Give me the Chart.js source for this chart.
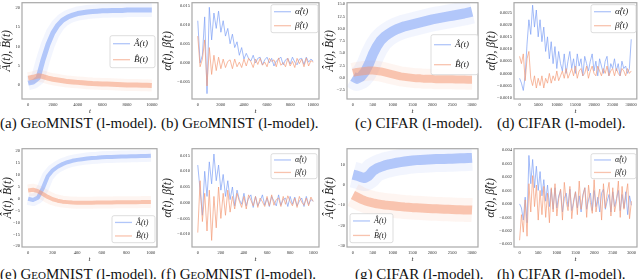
<!DOCTYPE html>
<html>
<head>
<meta charset="utf-8">
<script src="https://cdn.jsdelivr.net/npm/chart.js@4.4.0/dist/chart.umd.min.js"></script>
<style>
body{margin:0;background:#fff;width:640px;height:279px;overflow:hidden;position:relative;font-family:"Liberation Serif",serif}
canvas{position:absolute}
.cap{position:absolute;font-size:15px;line-height:15px;white-space:nowrap;color:#111}
.sc{font-variant:small-caps}
</style>
</head>
<body>
<div class="cap" style="left:0;top:116px">(a) <span class="sc">GeoMNIST</span> (l-model).</div>
<div class="cap" style="left:161px;top:116px">(b) <span class="sc">GeoMNIST</span> (l-model).</div>
<div class="cap" style="left:355px;top:116px">(c) CIFAR (l-model).</div>
<div class="cap" style="left:497px;top:116px">(d) CIFAR (l-model).</div>
<div class="cap" style="left:0;top:267px">(e) <span class="sc">GeoMNIST</span> (l-model).</div>
<div class="cap" style="left:161px;top:267px">(f) <span class="sc">GeoMNIST</span> (l-model).</div>
<div class="cap" style="left:355px;top:267px">(g) CIFAR (l-model).</div>
<div class="cap" style="left:497px;top:267px">(h) CIFAR (l-model).</div>
<script>
// ---- data ----
// (a) GeoMNIST, A-hat / B-hat, t = 0..10000
const stepA = 400;
const aHatA = [0.5,0.8,1.8,6.5,10.5,13.5,15.5,16.8,17.6,18.1,18.5,18.7,18.9,19.0,19.1,19.2,19.2,19.3,19.3,19.3,19.4,19.4,19.4,19.4,19.4,19.4];
const bHatA = [1.8,2.0,2.4,2.2,1.8,1.5,1.3,1.1,0.9,0.8,0.7,0.6,0.5,0.4,0.35,0.3,0.25,0.2,0.15,0.1,0.05,0.0,0.0,-0.05,-0.05,-0.1];

// (b) GeoMNIST, alpha-hat / beta-hat, t = 0..10000
const stepB = 200;
const alphaB = [0.011,0.000,0.002,0.012,-0.008,0.0145,0.006,0.013,0.009,0.0135,0.008,0.011,0.007,0.009,0.005,0.0075,0.004,0.0055,0.002,0.004,
  0.001,0.0025,0.0012,0.0005,0.002,0.000,0.0012,0.0015,-0.0005,0.0008,0.0015,0.000,0.0012,-0.0008,0.0005,0.001,0.0015,-0.0005,0.0008,0.0012,
  -0.0003,0.0015,0.0002,-0.0005,0.001,0.0012,-0.0004,0.0015,0.0002,0.001,0.0005];
const betaB = [0.007,-0.001,0.001,0.006,-0.006,0.004,-0.003,0.002,-0.002,0.0015,
  -0.0015,0.001,-0.0012,0.0004,0.0008,-0.0015,0.001,-0.001,0.0002,-0.0012,0.001,-0.0008,0.0012,0.0003,-0.0012,0.001,-0.0004,0.0012,-0.0006,0.0002,
  -0.001,0.0012,0.0004,0.0008,-0.001,0.0013,-0.0006,0.0001,-0.001,0.0012,-0.0008,0.0004,-0.0012,0.0012,-0.0002,0.001,-0.001,0.0013,-0.0008,0.0006,0.0002];

// (c) CIFAR, A-hat / B-hat, t = 0..3000
const stepC = 100;
const aHatC = [0.3,-0.2,0.2,1.2,2.8,4.8,6.4,7.6,8.4,9.0,9.5,9.9,10.2,10.5,10.7,10.9,11.1,11.3,11.5,11.7,11.9,12.05,12.2,12.35,12.5,12.65,12.8,12.95,13.1,13.3,13.5];
const bHatC = [1.0,1.2,1.3,1.4,1.5,1.5,1.4,1.3,1.1,0.9,0.7,0.5,0.3,0.2,0.1,0.0,-0.1,-0.1,-0.2,-0.2,-0.2,-0.3,-0.3,-0.3,-0.3,-0.3,-0.35,-0.35,-0.35,-0.4,-0.4];

// (d) CIFAR, alpha-hat / beta-hat, t = 0..30000
const stepD = 500;
const alphaD = [-0.0002,-0.0004,-0.0007,-0.0001,0.0012,0.0022,0.0016,0.0028,0.0019,0.0026,0.0015,0.0022,0.0013,0.0019,0.0009,0.0015,0.0006,0.0013,0.0004,0.0011,
  0.0002,0.0009,0.0004,0.0001,0.0008,0.0000,0.0005,0.0009,0.0002,0.0006,0.0000,0.0008,0.0003,0.0006,-0.0001,0.0007,0.0004,0.0001,0.0005,0.0008,
  0.0001,0.0005,-0.0001,0.0006,0.0003,0.0000,0.0005,0.0007,-0.0001,0.0004,0.0002,0.0006,0.0001,0.0004,-0.0001,0.0005,0.0002,0.0003,0.0000,0.0002,0.0014];
const betaD = [0.0007,0.0004,0.0008,-0.0003,0.0006,0.0009,-0.0002,-0.0005,-0.0001,-0.0006,-0.0002,-0.0005,-0.0001,-0.0006,-0.0002,-0.0004,0.0000,-0.0004,-0.0001,-0.0003,
  0.0001,-0.0003,-0.0001,0.0001,-0.0002,0.0002,-0.0002,0.0000,0.0002,-0.0001,0.0003,-0.0002,0.0001,0.0002,-0.0001,0.0000,0.0003,-0.0002,0.0001,0.0003,
  0.0000,-0.0001,0.0003,0.0001,-0.0001,0.0002,0.0000,0.0003,-0.0001,0.0001,0.0002,-0.0001,0.0002,0.0000,-0.0001,0.0002,0.0001,-0.0001,0.0002,0.0000,0.0001];

// (e) GeoMNIST, A-hat / B-hat, t = 0..1000
const stepE = 40;
const aHatE = [0.0,-0.5,0.5,4.5,9.5,12.0,13.5,14.6,15.4,16.0,16.4,16.7,17.0,17.2,17.3,17.5,17.6,17.6,17.7,17.8,17.8,17.9,17.9,18.0,18.0,18.1];
const bHatE = [3.5,3.8,3.2,2.0,0.8,-0.2,-0.8,-1.2,-1.4,-1.6,-1.7,-1.7,-1.7,-1.7,-1.6,-1.6,-1.6,-1.6,-1.5,-1.5,-1.5,-1.5,-1.5,-1.4,-1.4,-1.4];

// (f) GeoMNIST, alpha-hat / beta-hat, t = 0..1000
const stepF = 20;
const alphaF = [0.012,0.004,-0.004,0.010,0.002,0.013,0.006,0.0155,0.007,0.012,0.004,0.009,0.002,0.007,0.001,0.005,
  -0.001,0.004,0.001,-0.0005,0.003,-0.001,0.0015,0.0025,-0.0015,0.002,-0.001,0.0005,0.0025,-0.0008,0.0015,-0.0012,0.002,0.0005,-0.001,0.0025,
  -0.0008,0.001,0.0015,-0.0012,0.002,-0.0005,0.0018,-0.001,0.0005,0.0015,-0.0012,0.002,-0.0006,0.001,0.0005];
const betaF = [-0.0095,0.007,-0.006,0.003,-0.009,0.004,-0.012,0.002,-0.008,0.005,-0.005,0.003,-0.004,0.004,-0.003,0.002,
  -0.002,0.003,0.0005,-0.0015,0.002,-0.002,0.0025,0.0008,-0.001,0.002,-0.0015,0.0015,0.0003,-0.0012,0.002,-0.001,0.0025,-0.0008,0.001,0.0015,
  -0.0012,0.002,-0.0005,0.0022,0.0004,-0.001,0.0015,-0.0015,0.002,0.0002,-0.0008,0.0015,-0.001,0.0018,0.0004];

// (g) CIFAR, A-hat / B-hat, t = 0..3000
const stepG = 100;
const aHatG = [5.0,4.5,3.8,3.3,4.5,6.8,8.0,8.8,9.5,10.0,10.4,10.8,11.1,11.4,11.7,11.9,12.1,12.2,12.3,12.4,12.5,12.6,12.6,12.7,12.8,12.8,12.9,13.0,13.0,13.1,13.2];
const bHatG = [-5.0,-6.0,-7.0,-7.8,-8.4,-8.9,-9.3,-9.6,-9.9,-10.1,-10.3,-10.5,-10.7,-10.9,-11.0,-11.2,-11.3,-11.4,-11.5,-11.6,-11.7,-11.8,-11.9,-12.0,-12.0,-12.1,-12.2,-12.2,-12.3,-12.3,-12.4];

// (h) CIFAR, alpha-hat / beta-hat, t = 0..3000
const stepH = 50;
const alphaH = [0.0000,-0.0003,-0.0012,0.0005,-0.0014,0.0036,0.0015,0.0033,0.0012,0.0028,0.0010,0.0024,0.0006,0.0018,0.0002,0.0014,-0.0002,0.0011,-0.0004,0.0012,
  -0.0003,0.0006,0.0010,-0.0006,0.0004,0.0008,-0.0002,0.0011,-0.0005,0.0001,0.0009,-0.0003,0.0006,-0.0006,0.0007,0.0012,-0.0004,0.0003,0.0008,-0.0005,
  0.0010,-0.0002,0.0005,-0.0006,0.0008,0.0011,-0.0004,0.0002,0.0007,-0.0006,0.0009,-0.0002,0.0004,0.0010,-0.0005,0.0007,-0.0003,0.0009,-0.0008,0.0006,-0.0001];
const betaH = [-0.0027,-0.0008,-0.0021,0.0003,-0.0024,0.0015,-0.0006,0.0021,-0.0002,0.0014,-0.0012,0.0010,-0.0008,0.0013,-0.0010,0.0008,-0.0014,0.0012,-0.0006,0.0015,
  -0.0009,0.0004,0.0011,-0.0012,0.0016,0.0002,-0.0005,0.0013,-0.0011,0.0003,0.0009,-0.0008,0.0017,-0.0004,0.0006,0.0012,-0.0010,0.0014,0.0001,-0.0007,
  0.0018,-0.0006,0.0003,0.0011,-0.0012,0.0015,-0.0003,0.0008,0.0016,-0.0009,0.0012,-0.0006,0.0002,0.0017,-0.0010,0.0013,-0.0004,0.0006,0.0015,-0.0011,0.0002];

// tick labels
const xTicks10k = [0,2000,4000,6000,8000,10000];
const xTicks3k = [0,500,1000,1500,2000,2500,3000];
const xTicks30k = [0,5000,10000,15000,20000,25000,30000];
const xTicks1k = [0,200,400,600,800,1000];
const yTicksA = [0,5,10,15,20];
const yTicksB = [-0.005,0,0.005,0.010,0.015];
const yTicksC = [-2.5,0,2.5,5,7.5,10,12.5,15];
const yTicksD = [-0.001,-0.0005,0,0.0005,0.001,0.0015,0.002,0.0025];
const yTicksE = [-20,-15,-10,-5,0,5,10,15,20];
const yTicksF = [-0.010,-0.005,0,0.005,0.010,0.015];
const yTicksG = [-30,-20,-10,0,10];
const yTicksH = [-0.003,-0.002,-0.001,0,0.001,0.002,0.003,0.004];

const A_LBL = '\u00C2(t)', B_LBL = 'B\u0302(t)';
const AL_LBL = '\u03B1\u0302(t)', BE_LBL = '\u03B2\u0302(t)';

// ---- drawing ----
const BLUE = '125,160,245', ORANGE = '244,155,120';
const SERIF = '"Liberation Serif", serif';
const fmt = (v, d) => (v < 0 ? '\u2212' : '') + Math.abs(v).toFixed(d);
const pts = (vals, step) => vals.map((v, i) => ({x: i * step, y: v}));

function bandSets(vals, step, rgb, core, cloud, ord) {
  return [
    {data: pts(vals, step), borderColor: 'rgba(' + rgb + ',0.1)', borderWidth: cloud, order: ord + 2},
    {data: pts(vals, step), borderColor: 'rgba(' + rgb + ',0.55)', borderWidth: core, order: ord}
  ];
}
function lineSet(vals, step, rgb, ord) {
  return {data: pts(vals, step), borderColor: 'rgba(' + rgb + ',0.7)', borderWidth: 1, order: ord};
}

const framePlugin = {
  id: 'frame',
  afterDraw(chart, args, o) {
    const {ctx, chartArea: a} = chart;
    ctx.save();
    ctx.strokeStyle = '#a8a8a8';
    ctx.lineWidth = 1.2;
    ctx.strokeRect(a.left, a.top, a.right - a.left, a.bottom - a.top);
    const L = o.legend;
    if (L) {
      const x = a.left + L.x, y = a.top + L.y;
      ctx.beginPath();
      ctx.roundRect(x, y, L.w, L.h, 2);
      ctx.fillStyle = 'rgba(255,255,255,0.85)';
      ctx.fill();
      ctx.strokeStyle = '#d4d4d4';
      ctx.lineWidth = 0.8;
      ctx.stroke();
      ctx.font = 'italic ' + L.size + 'px ' + SERIF;
      ctx.textBaseline = 'middle';
      o.items.forEach((it, i) => {
        const cy = y + L.h * (i + 0.5) / o.items.length;
        ctx.strokeStyle = 'rgba(' + it.rgb + ',0.6)';
        ctx.lineWidth = 1.3;
        ctx.beginPath();
        ctx.moveTo(x + 3, cy);
        ctx.lineTo(x + 20, cy);
        ctx.stroke();
        ctx.fillStyle = '#222';
        ctx.fillText(it.label, x + 24, cy);
      });
    }
    ctx.restore();
  }
};

function makePanel(p) {
  const [L, R, T, B] = p.box;
  const left = p.titleX - 8, top = T - 4, bottom = p.bottom;
  const cv = document.createElement('canvas');
  cv.width = R + 3 - left;
  cv.height = bottom - top;
  cv.style.left = left + 'px';
  cv.style.top = top + 'px';
  document.body.appendChild(cv);
  const tickFont = {size: 4.5, family: SERIF};
  new Chart(cv, {
    type: 'line',
    data: {datasets: p.datasets.map(d => Object.assign({pointRadius: 0, tension: 0, clip: 0, borderJoinStyle: 'round', fill: false}, d))},
    options: {
      responsive: false, animation: false, devicePixelRatio: 1,
      layout: {padding: {top: 4, right: 3, left: 0, bottom: 0}},
      plugins: {legend: {display: false}, tooltip: {enabled: false}, frame: {legend: p.legend, items: p.items}},
      scales: {
        x: {
          type: 'linear', min: p.x[0], max: p.x[1],
          afterFit: s => { s.height = bottom - B; },
          afterBuildTicks: s => { s.ticks = p.xt.map(v => ({value: v})); },
          ticks: {font: tickFont, color: '#333', padding: 3, maxRotation: 0, autoSkip: false, callback: v => String(v)},
          grid: {display: false, drawTicks: false}, border: {display: false},
          title: {display: true, text: 't', font: {size: 7, family: SERIF, style: 'italic'}, color: '#222', padding: 0}
        },
        y: {
          min: p.y[0], max: p.y[1],
          afterFit: s => { s.width = L - left; },
          afterBuildTicks: s => { s.ticks = p.yt.map(v => ({value: v})); },
          ticks: {font: tickFont, color: '#333', padding: 2, autoSkip: false, callback: v => fmt(v, p.yd)},
          grid: {display: false, drawTicks: false}, border: {display: false},
          title: {display: true, text: p.ytitle, font: {size: 11.5, family: SERIF, style: 'italic'}, color: '#222', padding: {top: 1, bottom: 0}}
        }
      }
    },
    plugins: [framePlugin]
  });
}

const abItems = [{label: A_LBL, rgb: BLUE}, {label: B_LBL, rgb: ORANGE}];
const alItems = [{label: AL_LBL, rgb: BLUE}, {label: BE_LBL, rgb: ORANGE}];
const abTitle = A_LBL + ', ' + B_LBL, alTitle = AL_LBL + ', ' + BE_LBL;

makePanel({box: [22,158,2,99], titleX: 7, bottom: 115, x: [-500,10500], xt: xTicks10k, y: [-3.6,21.3], yt: yTicksA, yd: 0,
  ytitle: abTitle, items: abItems, legend: {x: 88, y: 33, w: 45, h: 32, size: 9},
  datasets: [...bandSets(aHatA, stepA, BLUE, 5, 14, 1), ...bandSets(bHatA, stepA, ORANGE, 5, 12, 0)]});
makePanel({box: [192,319,2,99], titleX: 168, bottom: 115, x: [-500,10500], xt: xTicks10k, y: [-0.0094,0.0157], yt: yTicksB, yd: 3,
  ytitle: alTitle, items: alItems, legend: {x: 79, y: 2, w: 47, h: 28, size: 9},
  datasets: [lineSet(alphaB, stepB, BLUE, 1), lineSet(betaB, stepB, ORANGE, 0)]});
makePanel({box: [347,478,2,99], titleX: 330, bottom: 115, x: [-150,3150], xt: xTicks3k, y: [-4.3,15.3], yt: yTicksC, yd: 1,
  ytitle: abTitle, items: abItems, legend: {x: 84, y: 32, w: 47, h: 40, size: 9},
  datasets: [...bandSets(aHatC, stepC, BLUE, 10, 24, 1), ...bandSets(bHatC, stepC, ORANGE, 8, 20, 0)]});
makePanel({box: [514,637,2,99], titleX: 492, bottom: 115, x: [-1500,31500], xt: xTicks30k, y: [-0.00105,0.0029], yt: yTicksD, yd: 4,
  ytitle: alTitle, items: alItems, legend: {x: 77, y: 2, w: 45, h: 28, size: 9},
  datasets: [lineSet(alphaD, stepD, BLUE, 1), lineSet(betaD, stepD, ORANGE, 0)]});

makePanel({box: [22,157,148,247], titleX: 8, bottom: 263, x: [-50,1050], xt: xTicks1k, y: [-20.3,21.1], yt: yTicksE, yd: 0,
  ytitle: abTitle, items: abItems, legend: {x: 90, y: 67, w: 43, h: 27, size: 8},
  datasets: [...bandSets(aHatE, stepE, BLUE, 4, 12, 1), ...bandSets(bHatE, stepE, ORANGE, 4, 12, 0)]});
makePanel({box: [192,319,148,247], titleX: 168, bottom: 263, x: [-50,1050], xt: xTicks1k, y: [-0.0141,0.0172], yt: yTicksF, yd: 3,
  ytitle: alTitle, items: alItems, legend: {x: 79, y: 5, w: 46, h: 25, size: 8},
  datasets: [lineSet(alphaF, stepF, BLUE, 1), lineSet(betaF, stepF, ORANGE, 0)]});
makePanel({box: [347,478,148,247], titleX: 330, bottom: 263, x: [-150,3150], xt: xTicks3k, y: [-30.5,17.7], yt: yTicksG, yd: 0,
  ytitle: abTitle, items: abItems, legend: {x: 3, y: 65, w: 43, h: 29, size: 8},
  datasets: [...bandSets(aHatG, stepG, BLUE, 10, 26, 1), ...bandSets(bHatG, stepG, ORANGE, 9, 24, 0)]});
makePanel({box: [514,637,148,247], titleX: 491, bottom: 263, x: [-150,3150], xt: xTicks3k, y: [-0.0032,0.0041], yt: yTicksH, yd: 3,
  ytitle: alTitle, items: alItems, legend: {x: 77, y: 5, w: 45, h: 25, size: 8},
  datasets: [lineSet(alphaH, stepH, BLUE, 1), lineSet(betaH, stepH, ORANGE, 0)]});
</script>
</body>
</html>
